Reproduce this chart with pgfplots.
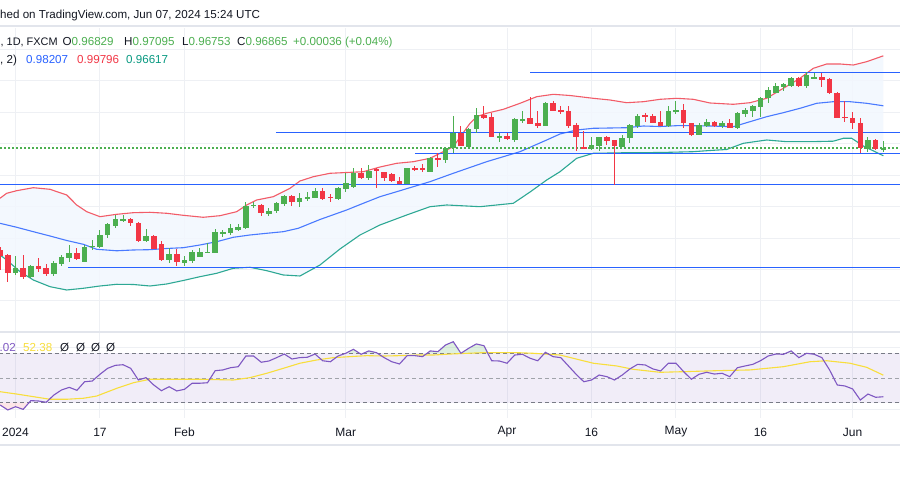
\documentclass[border=0pt]{standalone}
\usepackage{fontspec}
\setmainfont{Liberation Sans}
\usepackage{pgfplots}
\pgfplotsset{compat=1.18}
\usepackage{pgfplotstable}

\definecolor{cgreen}{RGB}{76,175,80}
\definecolor{cred}{RGB}{242,54,69}
\definecolor{bbred}{RGB}{242,92,104}
\definecolor{bbblue}{RGB}{41,98,255}
\definecolor{bbteal}{RGB}{8,153,129}
\definecolor{bbfill}{RGB}{242,247,254}
\definecolor{hblue}{RGB}{41,98,255}
\definecolor{gridc}{RGB}{238,240,244}
\definecolor{tvtext}{RGB}{19,23,34}
\definecolor{rsipurple}{RGB}{126,87,194}
\definecolor{rsiyellow}{RGB}{248,222,60}
\definecolor{dashgray}{RGB}{120,123,134}
\definecolor{sepgray}{RGB}{226,229,236}

% ---------- candles (x = trading-day index, 0 = 2 Jan 2024) ----------
\pgfplotstableread{
x o h l c
0 0.92899 0.93430 0.92826 0.93058
2 0.92772 0.93144 0.92731 0.93112
5 0.92858 0.93271 0.92804 0.93208
6 0.93166 0.93462 0.93122 0.93398
7 0.93376 0.93790 0.93249 0.93535
9 0.93249 0.93780 0.93249 0.93726
10 0.93732 0.93939 0.93621 0.93748
11 0.93726 0.94257 0.93685 0.94098
12 0.94098 0.94470 0.93993 0.94438
13 0.94384 0.94734 0.94311 0.94597
14 0.94585 0.94734 0.94502 0.94597
17 0.93907 0.94289 0.93885 0.94066
20 0.93303 0.93675 0.93198 0.93494
22 0.93217 0.93430 0.93122 0.93303
23 0.93281 0.93621 0.93217 0.93567
24 0.93408 0.93675 0.93389 0.93567
25 0.93548 0.93853 0.93516 0.93557
26 0.93535 0.94279 0.93516 0.94203
27 0.94171 0.94257 0.94044 0.94184
28 0.94152 0.94438 0.94098 0.94311
29 0.94257 0.94438 0.94235 0.94362
30 0.94330 0.95157 0.94279 0.95020
31 0.95043 0.95138 0.94947 0.95052
33 0.94756 0.94947 0.94702 0.94871
34 0.94871 0.95157 0.94788 0.95106
35 0.95084 0.95370 0.95020 0.95338
37 0.95157 0.95424 0.94998 0.95284
38 0.95284 0.95456 0.95189 0.95297
39 0.95284 0.95602 0.95265 0.95497
42 0.95233 0.95634 0.95211 0.95602
43 0.95561 0.96079 0.95475 0.95742
44 0.95634 0.96219 0.95583 0.96060
46 0.95901 0.96324 0.95847 0.96143
51 0.95720 0.96238 0.95710 0.96219
54 0.96111 0.96588 0.96101 0.96537
56 0.96483 0.96906 0.96397 0.96855
57 0.96855 0.97882 0.96696 0.97351
59 0.96906 0.97491 0.96896 0.97459
60 0.97459 0.98127 0.97332 0.97914
63 0.97214 0.97332 0.97065 0.97224
65 0.97119 0.97809 0.97046 0.97777
66 0.97765 0.98041 0.97650 0.97777
69 0.97574 0.98337 0.97564 0.98305
75 0.96833 0.97224 0.96801 0.96960
76 0.96938 0.97224 0.96779 0.97205
79 0.96906 0.97278 0.96887 0.97173
80 0.97173 0.97618 0.97033 0.97596
81 0.97564 0.97946 0.97491 0.97882
85 0.97564 0.98200 0.97523 0.98051
86 0.98041 0.98359 0.97946 0.98051
89 0.97278 0.97650 0.97269 0.97596
90 0.97574 0.97787 0.97532 0.97691
92 0.97574 0.97733 0.97510 0.97669
94 0.97510 0.98019 0.97469 0.97987
95 0.97946 0.98146 0.97860 0.98073
96 0.98051 0.98232 0.97860 0.98210
97 0.98178 0.98496 0.97860 0.98464
98 0.98445 0.98814 0.98305 0.98709
99 0.98623 0.98922 0.98604 0.98836
100 0.98814 0.98941 0.98687 0.98900
101 0.98836 0.99132 0.98814 0.99100
103 0.98836 0.99272 0.98763 0.99186
104 0.99081 0.99259 0.99075 0.99132
111 0.96823 0.97205 0.96747 0.97119
113 0.96829 0.97095 0.96753 0.96865
}\upc

\pgfplotstableread{
x o h l c
-2 0.93621 0.93716 0.92985 0.93430
-1 0.93462 0.93494 0.92603 0.92890
1 0.93058 0.93462 0.92699 0.92772
3 0.93112 0.93376 0.92931 0.93026
4 0.93049 0.93176 0.92804 0.92858
8 0.93535 0.93694 0.93293 0.93335
15 0.94607 0.94629 0.94394 0.94470
16 0.94480 0.94511 0.93891 0.93917
18 0.94066 0.94098 0.93643 0.93643
19 0.93812 0.93907 0.93281 0.93303
21 0.93494 0.93643 0.93122 0.93230
32 0.95052 0.95084 0.94712 0.94788
36 0.95338 0.95370 0.95030 0.95157
40 0.95497 0.95602 0.95227 0.95243
41 0.95306 0.95392 0.95157 0.95291
45 0.96060 0.96219 0.95879 0.95901
47 0.96181 0.96219 0.95602 0.96149
48 0.96092 0.96111 0.95815 0.95920
49 0.96028 0.96079 0.95793 0.95815
50 0.95815 0.95952 0.95710 0.95720
52 0.96219 0.96292 0.96133 0.96206
53 0.96219 0.96346 0.96111 0.96206
55 0.96537 0.96696 0.96251 0.96524
58 0.97351 0.97564 0.96928 0.96938
61 0.97914 0.98200 0.97803 0.97809
62 0.97841 0.97987 0.97214 0.97224
64 0.97246 0.97351 0.97119 0.97141
67 0.97809 0.98496 0.97618 0.97628
68 0.97669 0.98051 0.97491 0.97574
70 0.98286 0.98359 0.98041 0.98051
71 0.98057 0.98200 0.97946 0.98041
72 0.98041 0.98200 0.97491 0.97564
73 0.97596 0.97650 0.96769 0.97205
74 0.96906 0.97405 0.96849 0.96855
77 0.97205 0.97246 0.96960 0.97097
78 0.97119 0.97129 0.95688 0.96938
82 0.97898 0.97968 0.97701 0.97882
83 0.97892 0.97946 0.97650 0.97669
84 0.97682 0.98051 0.97564 0.97574
87 0.98073 0.98264 0.97491 0.97650
88 0.97650 0.97660 0.97246 0.97278
91 0.97701 0.97733 0.97542 0.97574
93 0.97669 0.97787 0.97501 0.97510
102 0.99100 0.99132 0.98795 0.98836
105 0.99132 0.99259 0.98814 0.99027
106 0.99059 0.99081 0.98598 0.98604
107 0.98623 0.98655 0.97819 0.97828
108 0.97850 0.98369 0.97701 0.97828
109 0.97828 0.98000 0.97459 0.97650
110 0.97669 0.97809 0.96715 0.96855
112 0.97119 0.97151 0.96801 0.96823
}\downc

% ---------- Bollinger bands ----------
\pgfplotstableread{
x y
-2.02 0.95265
-1.15 0.95424
0.16 0.95507
2.32 0.95602
4.49 0.95551
6.67 0.95370
7.97 0.95052
9.27 0.94839
11.00 0.94680
13.18 0.94756
15.34 0.94807
17.51 0.94820
19.69 0.94788
21.85 0.94724
24.45 0.94661
26.63 0.94712
28.80 0.94839
30.10 0.95052
31.41 0.95211
33.57 0.95316
35.74 0.95583
37.04 0.95815
38.78 0.95952
40.95 0.96060
45.29 0.96111
47.46 0.96260
49.64 0.96378
51.80 0.96429
53.97 0.96537
54.84 0.96642
57.00 0.96906
59.18 0.97650
60.05 0.97860
61.35 0.97968
63.52 0.98095
65.69 0.98286
67.86 0.98496
70.03 0.98572
72.20 0.98534
75.23 0.98445
77.41 0.98391
79.58 0.98305
81.74 0.98337
83.92 0.98413
86.09 0.98445
88.26 0.98413
90.43 0.98296
93.46 0.98254
95.64 0.98305
97.81 0.98445
99.97 0.98763
102.15 0.99081
103.88 0.99399
105.63 0.99536
107.36 0.99536
109.09 0.99504
110.83 0.99609
113.00 0.99796
}\bbup

\pgfplotstableread{
x y
-2.02 0.94470
0.16 0.94343
2.32 0.94203
4.49 0.94066
6.67 0.93923
8.83 0.93802
10.57 0.93643
13.18 0.93596
15.34 0.93621
17.51 0.93631
19.69 0.93669
21.85 0.93694
24.02 0.93780
26.20 0.93885
28.36 0.94025
30.53 0.94098
32.71 0.94152
34.87 0.94203
36.82 0.94311
39.65 0.94591
43.12 0.94893
45.29 0.95106
47.46 0.95316
49.64 0.95475
51.80 0.95634
53.97 0.95793
57.00 0.96060
61.35 0.96429
65.69 0.96747
69.17 0.97119
70.90 0.97310
73.07 0.97437
75.23 0.97491
79.58 0.97510
81.74 0.97564
83.92 0.97548
86.09 0.97574
88.26 0.97574
90.43 0.97564
93.46 0.97542
95.64 0.97701
97.81 0.97860
99.97 0.97987
102.15 0.98127
104.32 0.98286
106.48 0.98337
108.66 0.98337
110.83 0.98286
113.00 0.98207
}\bbmid

\pgfplotstableread{
x y
-2.02 0.93462
-1.15 0.93303
0.59 0.92931
2.32 0.92667
4.49 0.92454
6.67 0.92349
8.83 0.92403
11.00 0.92476
13.18 0.92530
15.34 0.92524
17.51 0.92476
19.69 0.92540
21.85 0.92651
24.02 0.92772
26.20 0.92880
28.36 0.93039
30.53 0.93071
32.71 0.92963
34.87 0.92826
37.04 0.92794
39.65 0.93144
42.25 0.93653
44.86 0.94098
47.46 0.94416
50.94 0.94734
53.97 0.94998
56.15 0.95052
60.48 0.94998
64.82 0.95106
67.00 0.95465
69.17 0.95847
70.90 0.96111
73.07 0.96537
75.23 0.96696
79.58 0.96715
83.92 0.96721
88.26 0.96747
90.43 0.96785
92.60 0.96817
94.77 0.97014
97.81 0.97119
100.42 0.97065
103.45 0.97065
106.48 0.97081
107.79 0.97173
108.88 0.97173
110.39 0.96928
113.00 0.96617
}\bblo

% band area: upper band forward, lower band backward
\pgfplotstableread{
x y
-2.02 0.95265
-1.15 0.95424
0.16 0.95507
2.32 0.95602
4.49 0.95551
6.67 0.95370
7.97 0.95052
9.27 0.94839
11.00 0.94680
13.18 0.94756
15.34 0.94807
17.51 0.94820
19.69 0.94788
21.85 0.94724
24.45 0.94661
26.63 0.94712
28.80 0.94839
30.10 0.95052
31.41 0.95211
33.57 0.95316
35.74 0.95583
37.04 0.95815
38.78 0.95952
40.95 0.96060
45.29 0.96111
47.46 0.96260
49.64 0.96378
51.80 0.96429
53.97 0.96537
54.84 0.96642
57.00 0.96906
59.18 0.97650
60.05 0.97860
61.35 0.97968
63.52 0.98095
65.69 0.98286
67.86 0.98496
70.03 0.98572
72.20 0.98534
75.23 0.98445
77.41 0.98391
79.58 0.98305
81.74 0.98337
83.92 0.98413
86.09 0.98445
88.26 0.98413
90.43 0.98296
93.46 0.98254
95.64 0.98305
97.81 0.98445
99.97 0.98763
102.15 0.99081
103.88 0.99399
105.63 0.99536
107.36 0.99536
109.09 0.99504
110.83 0.99609
113.00 0.99796
113.00 0.96617
110.39 0.96928
108.88 0.97173
107.79 0.97173
106.48 0.97081
103.45 0.97065
100.42 0.97065
97.81 0.97119
94.77 0.97014
92.60 0.96817
90.43 0.96785
88.26 0.96747
83.92 0.96721
79.58 0.96715
75.23 0.96696
73.07 0.96537
70.90 0.96111
69.17 0.95847
67.00 0.95465
64.82 0.95106
60.48 0.94998
56.15 0.95052
53.97 0.94998
50.94 0.94734
47.46 0.94416
44.86 0.94098
42.25 0.93653
39.65 0.93144
37.04 0.92794
34.87 0.92826
32.71 0.92963
30.53 0.93071
28.36 0.93039
26.20 0.92880
24.02 0.92772
21.85 0.92651
19.69 0.92540
17.51 0.92476
15.34 0.92524
13.18 0.92530
11.00 0.92476
8.83 0.92403
6.67 0.92349
4.49 0.92454
2.32 0.92667
0.59 0.92931
-1.15 0.93303
-2.02 0.93462
}\bbarea

% ---------- RSI ----------
\pgfplotstableread{
x y
-2 28.4
-1 24.4
0 27.0
1 24.9
2 31.9
3 31.6
4 30.6
5 36.4
6 40.5
7 42.6
8 40.2
9 47.1
10 47.7
11 53.1
12 57.9
13 60.3
14 60.8
15 57.9
16 48.5
17 50.4
18 44.5
19 39.9
20 43.1
21 39.7
22 41.0
23 45.9
24 45.9
25 46.3
26 56.0
27 56.6
28 58.4
29 59.2
30 67.8
31 67.8
32 62.8
33 63.8
34 66.5
35 69.4
36 65.4
37 66.5
38 66.8
39 69.4
40 64.0
41 63.2
42 67.8
43 70.0
44 73.2
45 69.2
46 71.9
47 70.5
48 66.5
49 63.2
50 61.4
51 68.1
52 68.1
53 67.3
54 71.9
55 71.3
56 76.7
57 79.3
58 70.0
59 74.0
60 77.5
61 76.1
62 64.0
63 63.8
64 62.0
65 68.6
66 69.2
67 66.0
68 64.0
69 70.8
70 67.3
71 66.5
72 59.8
73 53.1
74 47.1
75 48.5
76 52.5
77 51.2
78 48.5
79 52.5
80 57.4
81 61.1
82 60.6
83 57.4
84 55.8
85 62.0
86 62.0
87 55.2
88 49.1
89 53.1
90 54.7
91 53.3
92 53.9
93 51.2
94 58.4
95 59.8
96 61.1
97 64.0
98 67.8
99 69.4
100 69.2
101 71.9
102 66.5
103 70.0
104 69.2
105 66.5
106 56.6
107 44.5
108 43.7
109 41.3
110 32.4
111 37.2
112 34.6
113 35.02
}\rsi

\pgfplotstableread{
x y
-2.02 39.1
0.16 37.2
2.32 35.1
4.49 33.0
6.67 33.0
8.83 33.8
10.57 35.6
13.18 41.8
15.34 46.3
17.51 49.1
19.69 49.1
24.02 49.1
28.36 48.5
30.53 50.4
32.71 53.9
34.87 57.9
37.04 62.0
39.21 64.6
41.38 66.5
43.55 67.3
45.73 68.1
47.89 67.8
50.07 68.1
52.24 68.6
54.40 68.6
56.58 69.4
60.92 70.5
65.32 70.5
67.42 70.0
70.90 68.6
75.23 62.0
78.29 59.8
80.44 57.1
83.92 54.7
86.95 55.2
91.30 56.0
95.64 56.6
99.97 59.2
103.45 63.2
105.63 64.0
108.66 62.0
110.83 58.7
113.00 52.38
}\rsima

\begin{document}
\begin{tikzpicture}[x=1pt,y=1pt]
\fill[white] (0,0) rectangle (900,481);

% ================= main price pane =================
\begin{scope}[yshift=149pt]
\begin{axis}[
  at={(0pt,0pt)}, anchor=south west, scale only axis,
  width=900pt, height=304pt,
  xmin=-2.018, xmax=115.17, ymin=0.91013, ymax=1.00681,
  axis line style={draw=none}, tick style={draw=none},
  ticklabel style={inner sep=0pt},
  xtick={0,11,22,43,64,75,86,97,109}, xticklabels={},
  ytick={0.92,0.93,0.94,0.95,0.96,0.97,0.98,0.99,1.00}, yticklabels={},
  grid=major, major grid style={draw=gridc, line width=1pt},
  clip=true]
% band fill
\addplot[fill=bbfill, fill opacity=0.85, draw=none, forget plot] table[x=x,y=y]{\bbarea} -- cycle;
% band lines
\addplot[bbred, line width=1.1pt] table[x=x,y=y]{\bbup};
\addplot[bbblue!85, line width=1.1pt] table[x=x,y=y]{\bbmid};
\addplot[bbteal!85, line width=1.1pt] table[x=x,y=y]{\bblo};
% drawn support / resistance lines
\addplot[hblue, line width=1pt] coordinates {(67.0,0.99281) (116,0.99281)};
\addplot[hblue, line width=1pt] coordinates {(33.9,0.97364) (116,0.97364)};
\addplot[hblue, line width=1pt] coordinates {(52.0,0.96696) (116,0.96696)};
\addplot[hblue, line width=1pt] coordinates {(-3,0.95688) (116,0.95688)};
\addplot[hblue, line width=1pt] coordinates {(6.84,0.93071) (116,0.93071)};
% last price line
\addplot[cgreen, line width=1.1pt, dash pattern=on 1.5pt off 2.5pt] coordinates {(-3,0.96865) (116,0.96865)};
% candles: wicks
\addplot[draw=none, forget plot, error bars/.cd, y dir=both, y explicit, error mark=none,
  error bar style={draw=cgreen, line width=1pt}]
  table[x=x, y expr={(\thisrow{h}+\thisrow{l})/2}, y error expr={(\thisrow{h}-\thisrow{l})/2}]{\upc};
\addplot[draw=none, forget plot, error bars/.cd, y dir=both, y explicit, error mark=none,
  error bar style={draw=cred, line width=1pt}]
  table[x=x, y expr={(\thisrow{h}+\thisrow{l})/2}, y error expr={(\thisrow{h}-\thisrow{l})/2}]{\downc};
% candles: bodies
\addplot[draw=none, forget plot, error bars/.cd, y dir=both, y explicit, error mark=none,
  error bar style={draw=cgreen, line width=5.6pt}]
  table[x=x, y expr={(\thisrow{o}+\thisrow{c})/2}, y error expr={max(abs(\thisrow{c}-\thisrow{o})/2,0.00017)}]{\upc};
\addplot[draw=none, forget plot, error bars/.cd, y dir=both, y explicit, error mark=none,
  error bar style={draw=cred, line width=5.6pt}]
  table[x=x, y expr={(\thisrow{o}+\thisrow{c})/2}, y error expr={max(abs(\thisrow{c}-\thisrow{o})/2,0.00017)}]{\downc};
\end{axis}
\end{scope}

% ================= RSI pane =================
\begin{scope}[yshift=63pt]
\begin{axis}[
  at={(0pt,0pt)}, anchor=south west, scale only axis,
  width=900pt, height=86pt,
  xmin=-2.018, xmax=115.17, ymin=17.93, ymax=87.14,
  axis line style={draw=none}, tick style={draw=none}, major tick length=0pt,
  xtick={0,11,22,43,64,75,86,97,109},
  xticklabels={2024,17,Feb,Mar,Apr,16,May,16,Jun},
  xticklabel style={font=\fontsize{12}{14}\selectfont, text=tvtext, anchor=center, yshift=-14pt},
  ytick={25,75}, yticklabels={}, yticklabel style={inner sep=0pt},
  grid=major, major grid style={draw=gridc, line width=1pt},
  clip=true]
\fill[rsipurple, fill opacity=0.1] (axis cs:-3,30) rectangle (axis cs:116,70);
\addplot[fill=cgreen, fill opacity=0.18, draw=none] coordinates {(53.59,70) (54,71.9) (55,71.3) (56,76.7) (57,79.3) (58,70) (59,74) (60,77.5) (61,76.1) (61.5,70)};
\addplot[fill=cgreen, fill opacity=0.18, draw=none] coordinates {(43,70) (44,73.2) (44.8,70)};
\addplot[fill=cgreen, fill opacity=0.18, draw=none] coordinates {(45.3,70) (46,71.9) (47,70.5) (47.13,70)};
\addplot[fill=cgreen, fill opacity=0.18, draw=none] coordinates {(100.3,70) (101,71.9) (101.35,70)};
\addplot[fill=cred, fill opacity=0.12, draw=none] coordinates {(-2.02,30) (-2.02,28.4) (-1,24.4) (0,27.0) (1,24.9) (1.73,30)};
\addplot[dashgray, line width=1pt, dash pattern=on 4pt off 3pt] coordinates {(-3,70) (116,70)};
\addplot[dashgray!70, line width=1pt, dash pattern=on 4pt off 3pt] coordinates {(-3,50) (116,50)};
\addplot[dashgray, line width=1pt, dash pattern=on 4pt off 3pt] coordinates {(-3,30) (116,30)};
\addplot[rsiyellow, line width=1.1pt] table[x=x,y=y]{\rsima};
\addplot[rsipurple, line width=1.1pt] table[x=x,y=y]{\rsi};
\end{axis}
\end{scope}

% ================= separators =================
\draw[sepgray, line width=2pt] (0,454.5) -- (900,454.5);
\draw[sepgray, line width=1.5pt] (0,149) -- (900,149);
\draw[sepgray, line width=2.3pt] (0,36) -- (900,36);

% ================= texts =================
\node[anchor=base west, inner sep=0, text=tvtext, font=\fontsize{11.6}{14}\selectfont] at (0,462) {hed on TradingView.com, Jun 07, 2024 15:24 UTC};

\begin{scope}[every node/.style={anchor=base west, inner sep=0, text=tvtext, font=\fontsize{11.6}{14}\selectfont}]
\node[font=\fontsize{10.9}{14}\selectfont] at (0.5,435) {, 1D, FXCM};
\node at (62.5,435) {O\textcolor{cgreen}{0.96829}};
\node at (124,435) {H\textcolor{cgreen}{0.97095}};
\node at (182,435) {L\textcolor{cgreen}{0.96753}};
\node at (237,435) {C\textcolor{cgreen}{0.96865}};
\node at (293,435) {\textcolor{cgreen}{+0.00036 (+0.04\%)}};
\node at (0,417.7) {, 2)};
\node at (26,417.7) {\textcolor{bbblue}{0.98207}};
\node at (77,417.7) {\textcolor{cred}{0.99796}};
\node at (126,417.7) {\textcolor{bbteal}{0.96617}};
\node at (-0.5,129.5) {\textcolor{rsipurple}{.02}};
\node at (23,129.5) {\textcolor{rsiyellow}{52.38}};
\node at (60,129.5) {Ø};
\node at (76,129.5) {Ø};
\node at (91,129.5) {Ø};
\node at (106,129.5) {Ø};
\end{scope}

\pgfresetboundingbox
\path (0,0) rectangle (900,481);
\end{tikzpicture}
\end{document}
